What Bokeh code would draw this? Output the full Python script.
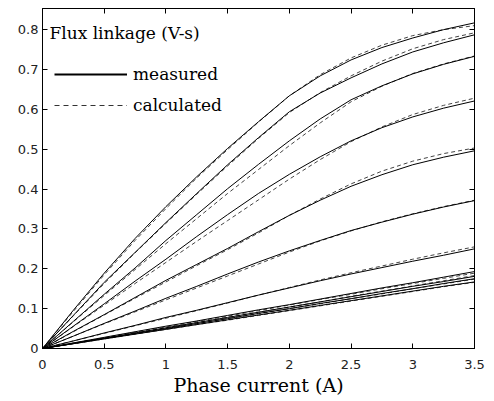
from bokeh.plotting import figure
from bokeh.models import Range1d, LinearAxis, FixedTicker, Label, Legend, LegendItem
from bokeh.embed import file_html
from bokeh.resources import INLINE

# Phase current samples (A)
current = [0, 0.25, 0.5, 0.75, 1.0, 1.25, 1.5, 1.75, 2.0, 2.25, 2.5, 2.75, 3.0, 3.25, 3.5]

# Measured flux linkage (V-s), one curve per rotor position, aligned -> unaligned
meas_1 = [0, 0.096, 0.189, 0.276, 0.356, 0.431, 0.502, 0.569, 0.634, 0.684, 0.724, 0.755, 0.779, 0.800, 0.817]
meas_2 = [0, 0.083, 0.166, 0.241, 0.316, 0.389, 0.461, 0.529, 0.594, 0.641, 0.679, 0.714, 0.744, 0.767, 0.787]
meas_3 = [0, 0.068, 0.136, 0.202, 0.271, 0.336, 0.401, 0.462, 0.521, 0.576, 0.624, 0.659, 0.689, 0.713, 0.733]
meas_4 = [0, 0.056, 0.112, 0.169, 0.224, 0.281, 0.336, 0.389, 0.437, 0.481, 0.521, 0.554, 0.581, 0.603, 0.621]
meas_5 = [0, 0.043, 0.085, 0.128, 0.171, 0.211, 0.251, 0.293, 0.334, 0.372, 0.407, 0.436, 0.461, 0.480, 0.496]
meas_6 = [0, 0.031, 0.063, 0.094, 0.126, 0.156, 0.187, 0.217, 0.245, 0.271, 0.296, 0.317, 0.337, 0.355, 0.371]
meas_7 = [0, 0.019, 0.039, 0.058, 0.078, 0.096, 0.115, 0.134, 0.152, 0.170, 0.187, 0.203, 0.219, 0.234, 0.250]
meas_8 = [0, 0.014, 0.028, 0.042, 0.056, 0.069, 0.083, 0.097, 0.110, 0.124, 0.138, 0.152, 0.165, 0.179, 0.193]
meas_9 = [0, 0.013, 0.026, 0.039, 0.052, 0.065, 0.078, 0.091, 0.104, 0.117, 0.130, 0.143, 0.156, 0.168, 0.181]
meas_10 = [0, 0.0125, 0.025, 0.0375, 0.050, 0.0625, 0.075, 0.088, 0.100, 0.113, 0.125, 0.138, 0.150, 0.163, 0.175]
meas_11 = [0, 0.012, 0.024, 0.036, 0.048, 0.060, 0.072, 0.084, 0.096, 0.108, 0.120, 0.132, 0.144, 0.156, 0.167]

# Calculated flux linkage (V-s) for the same rotor positions
calc_1 = [0, 0.093, 0.185, 0.271, 0.351, 0.428, 0.499, 0.568, 0.634, 0.687, 0.729, 0.761, 0.785, 0.800, 0.810]
calc_2 = [0, 0.082, 0.163, 0.240, 0.314, 0.387, 0.458, 0.527, 0.592, 0.642, 0.684, 0.721, 0.752, 0.775, 0.792]
calc_3 = [0, 0.067, 0.133, 0.198, 0.263, 0.326, 0.389, 0.449, 0.509, 0.566, 0.619, 0.658, 0.690, 0.714, 0.734]
calc_4 = [0, 0.055, 0.109, 0.163, 0.216, 0.269, 0.321, 0.373, 0.425, 0.474, 0.519, 0.556, 0.587, 0.610, 0.628]
calc_5 = [0, 0.042, 0.084, 0.126, 0.167, 0.208, 0.248, 0.290, 0.334, 0.375, 0.413, 0.445, 0.470, 0.489, 0.503]
calc_6 = [0, 0.031, 0.062, 0.092, 0.122, 0.152, 0.182, 0.212, 0.242, 0.270, 0.295, 0.318, 0.338, 0.356, 0.372]
calc_7 = [0, 0.019, 0.038, 0.057, 0.076, 0.095, 0.114, 0.134, 0.153, 0.172, 0.190, 0.207, 0.224, 0.240, 0.255]
calc_8 = [0, 0.0135, 0.027, 0.041, 0.054, 0.068, 0.081, 0.095, 0.109, 0.123, 0.136, 0.150, 0.163, 0.176, 0.189]
calc_9 = [0, 0.013, 0.026, 0.039, 0.052, 0.065, 0.078, 0.091, 0.104, 0.117, 0.131, 0.144, 0.157, 0.170, 0.183]
calc_10 = [0, 0.0125, 0.025, 0.037, 0.050, 0.062, 0.075, 0.087, 0.100, 0.112, 0.125, 0.137, 0.150, 0.162, 0.174]
calc_11 = [0, 0.012, 0.024, 0.036, 0.048, 0.060, 0.071, 0.083, 0.095, 0.107, 0.119, 0.131, 0.143, 0.155, 0.166]

measured = [meas_1, meas_2, meas_3, meas_4, meas_5, meas_6, meas_7, meas_8, meas_9, meas_10, meas_11]
calculated = [calc_1, calc_2, calc_3, calc_4, calc_5, calc_6, calc_7, calc_8, calc_9, calc_10, calc_11]

# Tick positions and their labels
x_ticks = [0, 0.5, 1, 1.5, 2, 2.5, 3, 3.5]
x_tick_labels = ["0", "0.5", "1", "1.5", "2", "2.5", "3", "3.5"]
y_ticks = [0, 0.1, 0.2, 0.3, 0.4, 0.5, 0.6, 0.7, 0.8]
y_tick_labels = ["0", "0.1", "0.2", "0.3", "0.4", "0.5", "0.6", "0.7", "0.8"]

TICK_FONT = "DejaVu Sans"
TEXT_FONT = "DejaVu Serif"

p = figure(width=494, height=401, output_backend="svg", toolbar_location=None,
           x_range=Range1d(0, 3.5), y_range=Range1d(0, 0.853),
           min_border_left=42, min_border_right=20, min_border_top=8, min_border_bottom=53)
p.grid.visible = False
p.outline_line_color = "black"
p.outline_line_width = 1
p.background_fill_color = "white"
p.border_fill_color = "white"


def style_axis(ax, ticks, labels, show_labels=True):
    ax.ticker = FixedTicker(ticks=ticks)
    ax.major_tick_in = 5
    ax.major_tick_out = 0
    ax.minor_tick_in = 0
    ax.minor_tick_out = 0
    ax.axis_line_color = "black"
    ax.major_tick_line_color = "black"
    if show_labels:
        ax.major_label_overrides = {t: s for t, s in zip(ticks, labels)}
        ax.major_label_text_font = TICK_FONT
        ax.major_label_text_color = "#222222"
        ax.major_label_text_font_size = "13px"
    else:
        # tick marks only on the box edges
        ax.major_label_text_color = None
        ax.major_label_text_font_size = "1px"
        ax.major_label_standoff = 0


style_axis(p.xaxis[0], x_ticks, x_tick_labels)
style_axis(p.yaxis[0], y_ticks, y_tick_labels)
p.xaxis[0].major_label_standoff = 11
p.yaxis[0].major_label_standoff = 4
p.xaxis[0].axis_label = "Phase current (A)"
p.xaxis[0].axis_label_text_font = TEXT_FONT
p.xaxis[0].axis_label_text_font_style = "normal"
p.xaxis[0].axis_label_text_font_size = "19px"
p.xaxis[0].axis_label_text_color = "black"
p.xaxis[0].axis_label_standoff = 2

top_axis = LinearAxis()
style_axis(top_axis, x_ticks, x_tick_labels, show_labels=False)
p.add_layout(top_axis, "above")
right_axis = LinearAxis()
style_axis(right_axis, y_ticks, y_tick_labels, show_labels=False)
p.add_layout(right_axis, "right")

# Calculated curves (dashed) under the measured ones (solid)
for ys in calculated:
    p.line(current, ys, line_color="#444444", line_width=1, line_dash="4 3")
for ys in measured:
    p.line(current, ys, line_color="black", line_width=1)

# Key entries (renderers that hold no visible points)
nan = float("nan")
key_meas = p.line(x=[nan], y=[nan], line_color="black", line_width=2)
key_calc = p.line(x=[nan], y=[nan], line_color="#333333", line_width=1, line_dash="5 4")
legend = Legend(items=[LegendItem(label="measured", renderers=[key_meas]),
                       LegendItem(label="calculated", renderers=[key_calc])],
                location=(12, 233), glyph_width=73, glyph_height=20, label_height=20,
                label_standoff=6, spacing=11, padding=0, margin=0,
                border_line_alpha=0, background_fill_alpha=0,
                label_text_font=TEXT_FONT, label_text_font_size="17px",
                label_text_color="black")
p.add_layout(legend)

title = Label(x=7, y=316, x_units="screen", y_units="screen",
              text="Flux linkage (V-s)", text_font=TEXT_FONT, text_font_size="17px",
              text_color="black", text_baseline="alphabetic")
p.add_layout(title)

open("out.html", "w").write(file_html(p, INLINE))
